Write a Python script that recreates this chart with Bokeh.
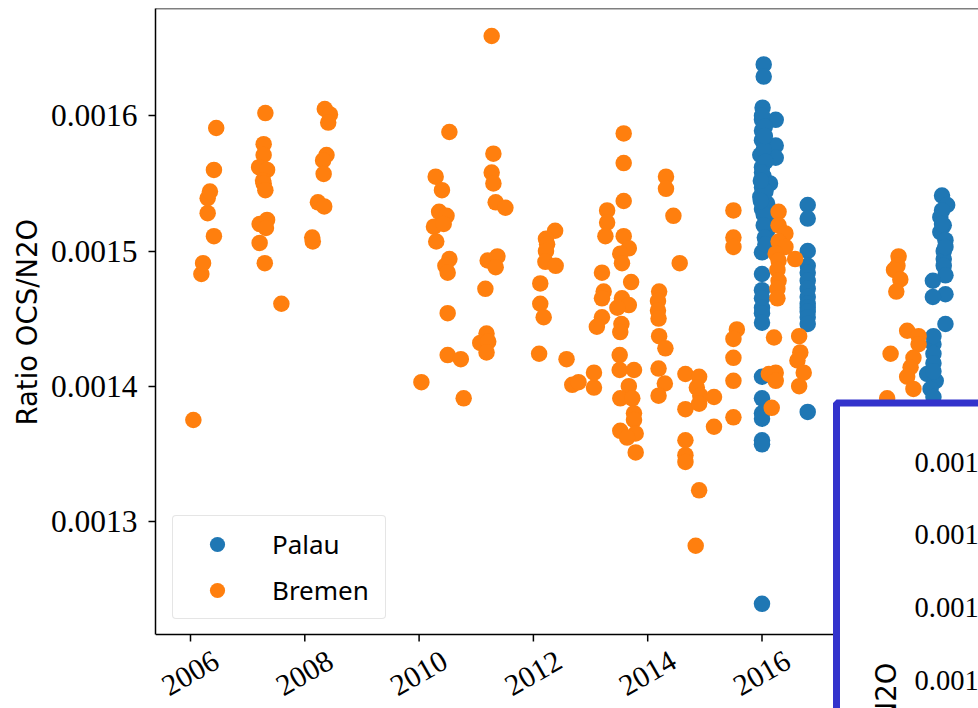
import math
from bokeh.plotting import figure
from bokeh.models import (Range1d, FixedTicker, PrintfTickFormatter, ColumnDataSource,
                          LabelSet, Label, Span, BoxAnnotation, Legend, Title)
from bokeh.embed import file_html
from bokeh.resources import INLINE

# ---------------- data ----------------
bremen_x = [
    2006.05, 2006.19, 2006.22, 2006.41, 2006.30, 2006.30, 2006.34, 2006.41, 2006.45,
    2007.31, 2007.28, 2007.28, 2007.20, 2007.34, 2007.27, 2007.28, 2007.31, 2007.21, 2007.34,
    2007.32, 2007.21, 2007.30, 2007.59,
    2008.35, 2008.44, 2008.41, 2008.38, 2008.32, 2008.33, 2008.23, 2008.34, 2008.13, 2008.14,
    2010.04, 2010.53, 2010.29, 2010.40, 2010.35, 2010.48, 2010.26, 2010.43, 2010.30, 2010.53,
    2010.46, 2010.50, 2010.50, 2010.50, 2010.73, 2010.78,
    2011.27, 2011.30, 2011.27, 2011.30, 2011.34, 2011.51, 2011.20, 2011.37, 2011.34, 2011.16,
    2011.18, 2011.07, 2011.21, 2011.18,
    2012.38, 2012.22, 2012.24, 2012.22, 2012.21, 2012.39, 2012.12, 2012.12, 2012.18, 2012.10,
    2012.58, 2012.68, 2012.79,
    2013.06, 2013.06, 2013.58, 2013.58, 2013.58, 2013.29, 2013.29, 2013.26, 2013.58, 2013.67,
    2013.52, 2013.55, 2013.20, 2013.71, 2013.23, 2013.20, 2013.55, 2013.67, 2013.47, 2013.20,
    2013.11, 2013.54, 2013.52, 2013.51, 2013.51, 2013.76, 2013.67, 2013.52, 2013.73, 2013.76,
    2013.76, 2013.52, 2013.79, 2013.64, 2013.79,
    2014.32, 2014.32, 2014.45, 2014.56, 2014.20, 2014.18, 2014.18, 2014.19, 2014.20, 2014.31,
    2014.19, 2014.30, 2014.19, 2014.66, 2014.90, 2014.86, 2014.92, 2014.66, 2014.90, 2014.66,
    2014.66, 2014.66, 2014.90, 2014.84,
    2015.16, 2015.16, 2015.50, 2015.50, 2015.50, 2015.56, 2015.50, 2015.50, 2015.50, 2015.50,
    2016.29, 2016.29, 2016.41, 2016.29, 2016.41, 2016.24, 2016.58, 2016.29, 2016.27, 2016.29,
    2016.27, 2016.27, 2016.21, 2016.65, 2016.67, 2016.62, 2016.73, 2016.65, 2016.12, 2016.24,
    2016.24, 2016.17,
    2018.39, 2018.37, 2018.31, 2018.42, 2018.35, 2018.54, 2018.74, 2018.74, 2018.25, 2018.65,
    2018.60, 2018.54, 2018.65, 2018.19,
]
bremen_y = [
    0.001375, 0.001483, 0.001491, 0.001511, 0.001528, 0.001539, 0.001544, 0.001560, 0.001591,
    0.001602, 0.001579, 0.001571, 0.001562, 0.001560, 0.001552, 0.001550, 0.001545, 0.001520, 0.001523,
    0.001517, 0.001506, 0.001491, 0.001461,
    0.001605, 0.001601, 0.001595, 0.001571, 0.001567, 0.001557, 0.001536, 0.001533, 0.001510, 0.001507,
    0.001403, 0.001588, 0.001555, 0.001545, 0.001529, 0.001526, 0.001518, 0.001520, 0.001507, 0.001494,
    0.001489, 0.001484, 0.001454, 0.001423, 0.001420, 0.001391,
    0.001659, 0.001572, 0.001558, 0.001550, 0.001536, 0.001532, 0.001493, 0.001496, 0.001488, 0.001472,
    0.001439, 0.001432, 0.001433, 0.001425,
    0.001515, 0.001509, 0.001505, 0.001500, 0.001492, 0.001489, 0.001476, 0.001461, 0.001451, 0.001424,
    0.001420, 0.001401, 0.001403,
    0.001410, 0.001399, 0.001587, 0.001565, 0.001537, 0.001530, 0.001521, 0.001511, 0.001511, 0.001502,
    0.001498, 0.001491, 0.001484, 0.001477, 0.001470, 0.001465, 0.001465, 0.001460, 0.001458, 0.001451,
    0.001444, 0.001446, 0.001440, 0.001423, 0.001412, 0.001412, 0.001400, 0.001391, 0.001391, 0.001380,
    0.001375, 0.001367, 0.001365, 0.001362, 0.001351,
    0.001555, 0.001546, 0.001526, 0.001491, 0.001470, 0.001463, 0.001456, 0.001450, 0.001437, 0.001428,
    0.001413, 0.001402, 0.001393, 0.001409, 0.001407, 0.001399, 0.001393, 0.001383, 0.001387, 0.001360,
    0.001349, 0.001344, 0.001323, 0.001282,
    0.001392, 0.001370, 0.001530, 0.001510, 0.001503, 0.001442, 0.001435, 0.001421, 0.001404, 0.001377,
    0.001529, 0.001519, 0.001513, 0.001507, 0.001503, 0.001498, 0.001494, 0.001493, 0.001486, 0.001478,
    0.001472, 0.001465, 0.001436, 0.001437, 0.001425, 0.001419, 0.001410, 0.001400, 0.001409, 0.001410,
    0.001404, 0.001384,
    0.001496, 0.001489, 0.001486, 0.001479, 0.001470, 0.001441, 0.001437, 0.001431, 0.001424, 0.001421,
    0.001414, 0.001407, 0.001398, 0.001391,
]

palau_x = [
    2016.03, 2016.03, 2016.01, 2016.24, 2016.00, 2016.00, 2016.00, 2016.24, 2015.97, 2016.24,
    2016.00, 2016.03, 2016.14, 2016.00, 2015.97, 2016.09, 2016.00, 2016.09, 2016.09, 2016.00,
    2016.00, 2016.00, 2016.00, 2016.00, 2016.00, 2016.00,
    2016.00, 2016.05, 2016.03, 2016.06, 2016.00, 2016.06, 2016.03, 2016.03, 2016.05, 2016.06,
    2015.98, 2015.98, 2016.05,
    2016.00, 2016.00, 2016.00, 2016.00, 2016.00, 2016.00, 2016.00,
    2016.80, 2016.80, 2016.80, 2016.80, 2016.80, 2016.80, 2016.80, 2016.80, 2016.80, 2016.80,
    2016.80, 2016.80, 2016.80, 2016.80,
    2019.15, 2019.24, 2019.12, 2019.18, 2019.12, 2019.21, 2019.18, 2019.18, 2019.18, 2019.21,
    2018.99, 2019.21, 2018.99, 2019.21, 2019.00, 2019.00, 2019.00, 2018.89, 2019.04, 2018.95,
    2019.00, 2019.15, 2019.15, 2019.21, 2019.00, 2019.00,
]
palau_y = [
    0.001638, 0.001629, 0.001606, 0.001597, 0.001597, 0.001589, 0.001582, 0.001578, 0.001571, 0.001569,
    0.001562, 0.001555, 0.001550, 0.001547, 0.001540, 0.001535, 0.001531, 0.001523, 0.001515, 0.001499,
    0.001483, 0.001471, 0.001465, 0.001458, 0.001454, 0.001447,
    0.001600, 0.001592, 0.001575, 0.001566, 0.001558, 0.001544, 0.001527, 0.001519, 0.001510, 0.001505,
    0.001552, 0.001537, 0.001585,
    0.001407, 0.001391, 0.001380, 0.001376, 0.001360, 0.001357, 0.001239,
    0.001534, 0.001524, 0.001500, 0.001489, 0.001484, 0.001478, 0.001472, 0.001466, 0.001461, 0.001458,
    0.001455, 0.001451, 0.001446, 0.001381,
    0.001541, 0.001534, 0.001525, 0.001519, 0.001514, 0.001508, 0.001500, 0.001494, 0.001489, 0.001482,
    0.001478, 0.001468, 0.001466, 0.001446, 0.001431, 0.001424, 0.001417, 0.001409, 0.001404, 0.001398,
    0.001392, 0.001530, 0.001520, 0.001503, 0.001437, 0.001411,
]

x_ticks = [2006, 2008, 2010, 2012, 2014, 2016, 2018]
y_ticks = [0.0013, 0.0014, 0.0015, 0.0016]
inset_tick_labels = ["0.001", "0.001", "0.001", "0.001"]

# ---------------- layout constants (screen pixels of the original) ----------------
W, H = 978, 708
FRAME_LEFT, FRAME_TOP = 155, 8
AXIS_BOTTOM = 634          # where the bottom spine of the main axes lies
YLABEL_START = 425         # lower end of the rotated y-axis title
PX_PER_YEAR = 57.15
PX_PER_UNIT = 1352000.0


def dx(px):
    """screen x -> data x (for decorations)"""
    return 2006 + (px - 190) / PX_PER_YEAR


def dy(py):
    """screen y -> data y (for decorations)"""
    return 0.0014 + (385.7 - py) / PX_PER_UNIT


BLUE = "#1f77b4"
ORANGE = "#ff7f0e"
SERIF = "Liberation Serif"
SANS = "Noto Sans"
LABEL_SANS = "DejaVu Sans"

# the frame runs down to the bottom of the window so that the inset panel
# (which covers the x-axis in the original) can be drawn over it
p = figure(width=W, height=H, output_backend="svg", toolbar_location=None,
           x_range=Range1d(dx(FRAME_LEFT), dx(W)), y_range=Range1d(dy(H), dy(FRAME_TOP)),
           x_axis_location=None,
           min_border_left=FRAME_LEFT, min_border_right=0, min_border_top=FRAME_TOP,
           min_border_bottom=0)
p.outline_line_color = None
p.grid.visible = False
p.background_fill_color = "white"
p.border_fill_color = "white"

r_palau = p.scatter(palau_x, palau_y, size=16.5, fill_color=BLUE, line_color=None)
r_bremen = p.scatter(bremen_x, bremen_y, size=16.5, fill_color=ORANGE, line_color=None)

# y axis (real axis, bounded to the main axes box)
yax = p.yaxis[0]
yax.bounds = (dy(AXIS_BOTTOM), dy(FRAME_TOP))
yax.axis_line_width = 1.5
yax.axis_line_color = "black"
yax.major_tick_line_width = 1.5
yax.major_tick_line_color = "black"
yax.major_tick_out = 7
yax.major_tick_in = 0
yax.minor_tick_line_color = None
yax.ticker = FixedTicker(ticks=y_ticks)
yax.formatter = PrintfTickFormatter(format="%.4f")
yax.major_label_text_font = SERIF
yax.major_label_text_font_size = "31.5px"
yax.major_label_text_color = "black"
yax.major_label_standoff = 11

# y-axis title, centred on the main axes box (not on the taller frame)
p.add_layout(Title(text="Ratio OCS/N2O", align="left", offset=H - YLABEL_START,
                   standoff=9, text_font=LABEL_SANS, text_font_size="27.5px",
                   text_font_style="normal", text_color="black"), "left")

# top and bottom spines
p.add_layout(Span(location=dy(FRAME_TOP), dimension="width", line_color="black", line_width=1.5))
p.add_layout(Span(location=dy(AXIS_BOTTOM), dimension="width", line_color="black", line_width=1.5))

# x ticks and rotated, centred tick labels (as in the original)
p.segment(x0=x_ticks, y0=[dy(AXIS_BOTTOM)] * len(x_ticks), x1=x_ticks,
          y1=[dy(AXIS_BOTTOM + 7)] * len(x_ticks), line_color="black", line_width=1.5)
xl_src = ColumnDataSource(dict(x=x_ticks, y=[dy(AXIS_BOTTOM + 39)] * len(x_ticks),
                               text=[str(t) for t in x_ticks]))
p.add_layout(LabelSet(x="x", y="y", text="text", source=xl_src,
                      angle=math.pi / 6, text_align="center", text_baseline="middle",
                      text_font=SERIF, text_font_size="30px", text_color="black"))

# legend
legend = Legend(items=[("Palau", [r_palau]), ("Bremen", [r_bremen])],
                location=(172 - FRAME_LEFT, H - 619))
legend.padding = 9
legend.spacing = 8
legend.glyph_width = 70
legend.glyph_height = 38
legend.label_standoff = 20
legend.label_height = 30
legend.label_width = 104
legend.label_text_font = SANS
legend.label_text_font_size = "26px"
legend.label_text_color = "black"
legend.border_line_color = "#cccccc"
legend.border_line_width = 1.3
legend.background_fill_color = "white"
legend.background_fill_alpha = 0.8
if "border_radius" in Legend.properties():
    legend.border_radius = 4
p.add_layout(legend)

# inset panel (runs past the window edges in the original)
p.add_layout(BoxAnnotation(left=dx(836), top=dy(402.5), right=dx(1010), bottom=dy(740),
                           fill_color="white", fill_alpha=1.0, line_color="#3333cc",
                           line_width=7, line_alpha=1.0, level="overlay"))
for lab, py in zip(inset_tick_labels, [461.7, 534.0, 606.7, 680.0]):
    p.add_layout(Label(x=dx(914), y=dy(py), text=lab, text_font=SERIF, text_font_size="28.5px",
                       text_align="left", text_baseline="middle", text_color="black",
                       level="overlay"))
p.add_layout(Label(x=dx(885), y=dy(662), text="Ratio OCS/N2O", angle=math.pi / 2,
                   text_align="right", text_baseline="middle", text_font=LABEL_SANS,
                   text_font_size="27.5px", text_color="black", level="overlay"))

open("out.html", "w").write(file_html(p, INLINE))
